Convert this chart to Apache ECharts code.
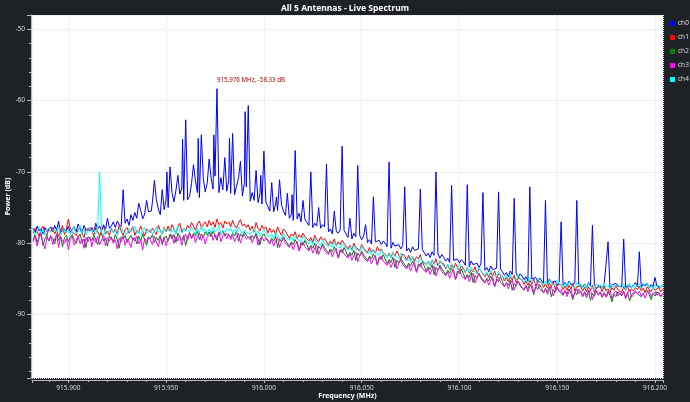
<!DOCTYPE html>
<html><head><meta charset="utf-8">
<script src="https://cdn.jsdelivr.net/npm/echarts@6/dist/echarts.min.js"></script>
<style>html,body{margin:0;padding:0;background:#1e2125;}#c{width:690px;height:402px;}</style>
</head><body><div id="c"></div>
<script>
// Sample grid (FFT bins) of the spectrum, in MHz
const freqStart = 915.882;
const freqStep = 0.001;
const channelNames = ['ch0', 'ch1', 'ch2', 'ch3', 'ch4'];

// ch0 body (noise + hump), dB
const ch0 = [
-77.9,-78.5,-77.6,-78.3,-78.0,-78.7,-77.8,-78.4,-78.1,-77.7,
-78.4,-77.5,-78.2,-76.9,-78.6,-78.0,-77.8,-78.3,-77.6,-78.5,
-78.1,-77.7,-78.4,-77.3,-78.0,-78.6,-77.5,-78.2,-77.9,-78.3,
-77.8,-78.4,-77.2,-78.0,-77.6,-78.3,-77.4,-78.1,-77.7,-77.9,
-77.6,-77.0,-77.8,-76.9,-77.4,-77.7,-76.8,-77.2,-76.6,-77.5,
-76.0,-76.8,-75.7,-76.5,-76.1,-75.4,-76.6,-75.9,-76.3,-75.6,
-75.8,-74.2,-75.5,-73.9,-75.2,-76.0,-74.4,-75.3,-73.8,-75.0,
-74.6,-72.9,-74.2,-72.6,-74.5,-73.1,-72.4,-74.0,-72.8,-73.9,
-73.4,-71.6,-73.2,-71.3,-72.9,-73.6,-71.5,-70.9,-72.8,-71.6,
-72.8,-70.9,-72.4,-70.6,-71.8,-72.9,-70.8,-72.5,-71.2,-72.7,
-71.2,-73.0,-71.5,-73.2,-72.0,-70.9,-72.8,-73.4,-71.6,-72.1,
-72.6,-74.1,-72.9,-74.0,-72.7,-74.3,-73.0,-74.5,-73.4,-74.2,
-74.2,-75.5,-74.0,-75.6,-74.5,-75.4,-76.0,-74.6,-75.5,-76.1,
-75.9,-76.5,-76.0,-76.8,-76.2,-76.6,-75.8,-77.0,-76.4,-76.7,
-76.9,-77.5,-77.0,-77.8,-77.2,-77.6,-76.8,-77.9,-77.4,-77.7,
-77.9,-78.4,-78.0,-78.7,-77.8,-78.3,-78.6,-78.1,-78.5,-78.2,
-78.7,-79.2,-78.8,-79.4,-78.6,-79.1,-79.3,-78.9,-79.5,-79.0,
-79.4,-79.9,-79.5,-80.1,-79.3,-79.8,-80.0,-79.6,-80.2,-79.7,
-80.0,-80.5,-80.1,-80.7,-79.9,-80.4,-80.6,-80.2,-80.8,-80.3,
-80.6,-81.1,-80.7,-81.3,-80.5,-81.0,-81.2,-80.8,-81.4,-80.9,
-81.3,-81.8,-81.4,-82.0,-81.2,-81.7,-81.9,-81.5,-82.1,-81.6,
-82.0,-82.5,-82.1,-82.7,-81.9,-82.4,-82.6,-82.2,-82.8,-82.3,
-82.6,-83.1,-82.7,-83.3,-82.5,-83.0,-83.2,-82.8,-83.4,-82.9,
-83.3,-83.8,-83.4,-84.0,-83.2,-83.7,-83.9,-83.5,-84.1,-83.6,
-84.0,-84.5,-84.1,-84.7,-83.9,-84.4,-84.6,-84.2,-84.8,-84.3,
-84.6,-85.1,-84.7,-85.3,-84.5,-85.0,-85.2,-84.8,-85.4,-84.9,
-85.1,-85.6,-85.2,-85.8,-85.0,-85.5,-85.7,-85.3,-85.9,-85.4,
-85.4,-85.9,-85.5,-86.1,-85.3,-85.8,-86.0,-85.6,-86.2,-85.7,
-85.6,-86.1,-85.7,-86.3,-85.5,-86.0,-86.2,-85.8,-86.4,-85.9,
-85.7,-86.2,-85.8,-86.0,-85.5,-86.3,-85.9,-86.1,-85.6,-86.0,
-85.8,-86.1,-85.6,-86.3,-85.9,-85.7,-86.2,-86.0,-85.5,-86.1,
-85.9,-86.2,-85.7,-86.0,-85.6,-86.3,-85.8,-86.1,-85.5,-86.0,
-85.8,-86.2,-85.9
];
// ch0 narrow tones (main comb, close side tones and mid tones)
const ch0SpikeFreq = [915.920,915.928,915.936,915.940,915.9424,915.944,915.948,915.9504,915.952,915.956,915.9584,915.960,915.964,915.9664,915.968,915.972,915.9744,915.976,915.980,915.9824,915.984,915.988,915.9904,915.992,915.996,915.9984,916.000,916.004,916.0064,916.008,916.012,916.0144,916.016,916.020,916.024,916.028,916.032,916.036,916.040,916.044,916.048,916.052,916.056,916.064,916.072,916.080,916.088,916.096,916.104,916.112,916.120,916.128,916.136,916.144,916.152,916.160,916.168,916.176,916.184,916.192,916.200];
const ch0SpikeDb   = [-76.5,-72.5,-74.4,-74.0,-75.5,-71.2,-72.5,-70.0,-69.3,-70.5,-65.4,-62.7,-69.0,-65.3,-64.8,-68.2,-64.8,-58.33,-68.0,-65.3,-64.6,-68.5,-61.55,-60.7,-69.8,-70.5,-67.1,-71.5,-73.5,-71.1,-73.0,-73.2,-67.0,-74.0,-70.0,-75.0,-68.9,-75.5,-66.4,-76.5,-69.1,-77.4,-73.5,-68.6,-72.1,-72.4,-70.0,-71.9,-71.8,-72.9,-72.8,-73.7,-72.1,-74.0,-77.0,-74.0,-77.5,-79.8,-79.4,-81.2,-84.8];

const ch1 = [
-78.6,-77.9,-78.4,-79.0,-78.1,-77.6,-78.5,-78.9,-78.0,-78.4,
-77.8,-78.7,-78.2,-79.1,-78.3,-77.5,-78.8,-78.0,-76.6,-77.9,
-78.5,-78.4,-78.9,-78.1,-77.7,-78.6,-79.2,-78.0,-78.3,-77.8,
-78.2,-78.9,-77.8,-78.4,-79.0,-78.1,-77.6,-78.7,-78.3,-78.9,
-77.9,-78.5,-78.0,-78.8,-77.4,-78.3,-78.9,-78.1,-77.8,-78.6,
-78.4,-77.7,-78.9,-78.2,-78.5,-77.6,-78.3,-79.0,-78.0,-77.8,
-78.5,-77.9,-78.1,-78.8,-77.5,-78.2,-78.7,-77.8,-78.4,-77.6,
-78.3,-77.4,-78.0,-78.6,-77.7,-77.2,-78.4,-77.9,-78.2,-77.5,
-77.9,-77.1,-77.6,-78.2,-77.3,-76.9,-77.8,-77.4,-77.0,-77.7,
-76.8,-77.5,-77.0,-77.8,-76.6,-77.4,-77.1,-77.9,-76.9,-77.3,
-77.0,-77.7,-76.8,-77.5,-77.9,-77.2,-76.7,-77.6,-77.3,-77.8,
-77.4,-78.2,-77.6,-78.4,-77.1,-77.9,-78.3,-77.5,-78.0,-77.7,
-78.6,-77.9,-78.5,-78.1,-78.8,-77.7,-78.4,-78.9,-78.0,-78.3,
-78.5,-79.3,-78.7,-79.0,-78.4,-79.4,-78.8,-79.2,-78.6,-79.1,
-79.0,-79.7,-79.2,-79.9,-78.9,-79.5,-79.8,-79.1,-79.6,-79.3,
-79.5,-80.3,-79.7,-80.1,-79.4,-80.4,-79.8,-80.2,-79.6,-80.0,
-80.1,-80.8,-80.3,-80.9,-80.0,-80.6,-80.4,-81.0,-80.2,-80.7,
-80.7,-81.3,-80.6,-81.2,-80.9,-81.4,-80.5,-81.1,-80.8,-81.3,
-81.2,-81.9,-81.4,-82.0,-81.3,-81.8,-81.1,-81.7,-82.1,-81.5,
-81.8,-82.4,-81.7,-82.3,-82.0,-82.6,-81.9,-82.2,-81.6,-82.5,
-82.3,-83.0,-82.5,-83.1,-82.4,-82.9,-82.2,-83.2,-82.6,-82.8,
-82.9,-83.6,-83.0,-83.7,-83.1,-83.5,-82.8,-83.4,-83.8,-83.2,
-83.5,-84.1,-83.4,-84.2,-83.7,-84.0,-83.3,-84.3,-83.6,-83.9,
-84.0,-84.7,-84.2,-84.8,-84.1,-84.6,-83.9,-84.9,-84.3,-84.5,
-84.6,-85.3,-84.8,-85.4,-84.7,-85.2,-84.5,-85.5,-84.9,-85.1,
-85.1,-85.8,-85.3,-85.9,-85.2,-85.7,-85.0,-86.0,-85.4,-85.6,
-85.5,-86.2,-85.7,-86.3,-85.6,-86.1,-85.4,-86.4,-85.8,-86.0,
-85.8,-86.5,-86.0,-86.6,-85.9,-86.4,-85.7,-86.7,-86.1,-86.3,
-86.0,-86.7,-86.2,-86.8,-86.1,-86.6,-85.9,-86.9,-86.3,-86.5,
-86.1,-86.8,-86.0,-86.7,-86.4,-86.9,-86.2,-86.6,-85.9,-86.5,
-86.3,-86.9,-86.1,-86.6,-86.0,-86.8,-86.4,-86.7,-86.2,-86.5,
-86.0,-86.7,-86.3,-86.9,-86.1,-86.5,-86.8,-86.2,-86.6,-86.4,
-86.2,-86.8,-86.4
];

const ch2 = [
-79.5,-78.8,-79.9,-79.1,-78.6,-80.3,-79.4,-78.9,-79.7,-79.0,
-79.3,-80.1,-78.7,-79.6,-79.0,-80.5,-79.2,-78.9,-79.8,-79.1,
-78.8,-79.5,-80.0,-79.2,-78.7,-79.9,-79.4,-80.6,-79.1,-79.3,
-79.6,-78.9,-79.4,-80.2,-79.0,-78.6,-79.7,-79.3,-80.4,-79.0,
-79.2,-79.8,-78.8,-79.5,-80.7,-79.1,-79.4,-78.9,-79.9,-79.3,
-78.9,-79.6,-79.2,-80.1,-79.0,-79.7,-78.7,-79.5,-80.3,-79.1,
-79.4,-78.8,-79.9,-79.2,-79.6,-78.9,-80.2,-79.3,-79.0,-79.7,
-78.7,-79.4,-78.8,-79.9,-78.6,-79.2,-79.6,-78.9,-80.3,-79.1,
-78.5,-79.2,-78.6,-79.0,-78.3,-79.5,-78.7,-79.1,-78.4,-78.9,
-78.4,-79.1,-78.3,-78.9,-79.6,-78.5,-78.8,-78.2,-79.0,-78.6,
-78.5,-79.2,-78.6,-79.0,-78.3,-79.7,-78.7,-79.1,-78.4,-78.9,
-78.8,-79.5,-78.9,-79.3,-78.6,-79.4,-80.2,-79.0,-78.7,-79.2,
-79.2,-79.9,-79.3,-79.7,-79.0,-80.6,-79.4,-79.8,-79.1,-79.6,
-79.7,-80.4,-79.8,-80.2,-79.5,-80.1,-81.0,-79.9,-80.3,-79.6,
-80.2,-80.9,-80.3,-80.7,-80.0,-81.5,-80.4,-80.8,-80.1,-80.6,
-80.7,-81.4,-80.8,-81.2,-80.5,-81.1,-82.0,-80.9,-81.3,-80.6,
-81.2,-81.9,-81.3,-81.7,-81.0,-82.4,-81.4,-81.8,-81.1,-81.6,
-81.7,-82.4,-81.8,-82.2,-81.5,-82.1,-83.0,-81.9,-82.3,-81.6,
-82.2,-82.9,-82.3,-82.7,-82.0,-83.4,-82.4,-82.8,-82.1,-82.6,
-82.7,-83.4,-82.8,-83.2,-82.5,-83.1,-84.0,-82.9,-83.3,-82.6,
-83.2,-83.9,-83.3,-83.7,-83.0,-84.4,-83.4,-83.8,-83.1,-83.6,
-83.7,-84.4,-83.8,-84.2,-83.5,-84.1,-85.0,-83.9,-84.3,-83.6,
-84.3,-85.0,-84.4,-84.8,-84.1,-85.5,-84.5,-84.9,-84.2,-84.7,
-84.8,-85.5,-84.9,-85.3,-84.6,-85.2,-86.1,-85.0,-85.4,-84.7,
-85.4,-86.1,-85.5,-85.9,-85.2,-86.6,-85.6,-86.0,-85.3,-85.8,
-85.9,-86.6,-86.0,-86.4,-85.7,-86.3,-87.2,-86.1,-86.5,-85.8,
-86.3,-87.0,-86.4,-86.8,-86.1,-87.5,-86.5,-86.9,-86.2,-86.7,
-86.6,-87.3,-86.7,-87.1,-86.4,-87.0,-87.9,-86.8,-87.2,-86.5,
-86.8,-87.5,-86.9,-87.3,-86.6,-88.0,-87.0,-87.4,-86.7,-87.2,
-86.9,-87.6,-87.0,-87.4,-86.7,-87.3,-88.2,-87.1,-87.5,-86.8,
-87.0,-87.4,-86.8,-87.6,-86.9,-88.1,-87.2,-87.3,-86.7,-87.1,
-86.9,-87.5,-87.1,-87.3,-86.6,-87.2,-87.9,-87.0,-87.4,-86.8,
-87.0,-87.5,-87.2
];

const ch3 = [
-79.8,-79.0,-80.4,-79.3,-78.7,-79.9,-80.8,-79.2,-79.6,-78.9,
-80.2,-79.4,-78.8,-80.6,-79.1,-79.7,-80.0,-79.3,-80.9,-79.5,
-79.0,-80.3,-79.6,-78.9,-80.1,-79.4,-80.7,-79.2,-79.8,-79.1,
-80.5,-79.3,-79.9,-79.0,-80.2,-79.6,-78.8,-80.4,-79.2,-79.7,
-79.1,-80.0,-79.5,-80.8,-79.3,-79.8,-79.0,-80.3,-79.4,-79.9,
-80.6,-79.2,-79.7,-79.0,-80.1,-79.5,-80.9,-79.3,-79.8,-79.1,
-79.6,-80.2,-79.0,-79.8,-80.5,-79.3,-79.9,-79.1,-80.4,-79.5,
-79.5,-78.8,-80.0,-79.1,-79.7,-78.9,-80.3,-79.2,-78.7,-79.6,
-78.6,-79.4,-78.8,-79.9,-79.1,-78.5,-79.6,-78.9,-80.1,-79.2,
-79.2,-78.5,-79.6,-78.8,-79.3,-78.4,-79.8,-79.0,-78.6,-79.4,
-78.7,-79.5,-78.9,-79.8,-79.1,-78.6,-80.0,-79.2,-78.8,-79.4,
-79.6,-79.0,-79.9,-79.2,-78.9,-80.3,-79.4,-79.1,-79.7,-79.3,
-79.4,-80.1,-79.5,-80.4,-79.7,-79.2,-80.6,-79.8,-79.3,-80.0,
-79.9,-80.6,-80.0,-80.9,-80.2,-79.7,-81.1,-80.3,-79.8,-80.5,
-80.4,-81.1,-80.5,-81.4,-80.7,-80.2,-81.6,-80.8,-80.3,-81.0,
-80.9,-81.6,-81.0,-81.9,-81.2,-80.7,-82.1,-81.3,-80.8,-81.5,
-81.4,-82.1,-81.5,-82.4,-81.7,-81.2,-82.6,-81.8,-81.3,-82.0,
-81.9,-82.6,-82.0,-82.9,-82.2,-81.7,-83.1,-82.3,-81.8,-82.5,
-82.4,-83.1,-82.5,-83.4,-82.7,-82.2,-83.6,-82.8,-82.3,-83.0,
-82.9,-83.6,-83.0,-83.9,-83.2,-82.7,-84.1,-83.3,-82.8,-83.5,
-83.4,-84.1,-83.5,-84.4,-83.7,-83.2,-84.6,-83.8,-83.3,-84.0,
-83.9,-84.6,-84.0,-84.9,-84.2,-83.7,-85.1,-84.3,-83.8,-84.5,
-84.4,-85.1,-84.5,-85.4,-84.7,-84.2,-85.6,-84.8,-84.3,-85.0,
-84.9,-85.6,-85.0,-85.9,-85.2,-84.7,-86.1,-85.3,-84.8,-85.5,
-85.4,-86.1,-85.5,-86.4,-85.7,-85.2,-86.6,-85.8,-85.3,-86.0,
-85.8,-86.5,-85.9,-86.8,-86.1,-85.6,-87.0,-86.2,-85.7,-86.4,
-86.2,-86.9,-86.3,-87.2,-86.5,-86.0,-87.4,-86.6,-86.1,-86.8,
-86.5,-87.2,-86.6,-87.5,-86.8,-86.3,-87.7,-86.9,-86.4,-87.1,
-86.7,-87.4,-86.8,-87.7,-87.0,-86.5,-87.9,-87.1,-86.6,-87.3,
-86.8,-87.5,-86.9,-87.6,-87.1,-86.6,-87.8,-87.0,-86.7,-87.4,
-86.9,-87.3,-86.7,-87.8,-87.0,-86.5,-87.6,-87.2,-86.8,-87.1,
-86.7,-87.4,-87.0,-87.7,-86.9,-86.6,-87.5,-87.1,-86.8,-87.3,
-86.9,-87.4,-87.0
];

const ch4 = [
-78.1,-78.8,-78.3,-77.7,-78.6,-78.0,-78.9,-78.2,-77.8,-78.5,
-78.7,-78.0,-78.4,-77.6,-78.9,-78.3,-77.9,-78.6,-78.1,-78.8,
-78.2,-77.8,-78.7,-78.4,-77.5,-78.6,-78.0,-78.9,-78.3,-77.9,
-78.5,-78.1,-78.8,-77.7,-70.0,-78.4,-78.9,-78.0,-78.6,-78.2,
-77.8,-78.6,-78.2,-78.9,-78.0,-77.6,-78.5,-78.3,-78.8,-77.9,
-78.4,-78.0,-77.6,-78.7,-78.2,-78.9,-78.1,-77.8,-78.6,-78.3,
-78.0,-78.7,-78.3,-77.7,-78.5,-78.1,-78.8,-77.9,-78.4,-78.2,
-77.8,-78.5,-78.0,-78.7,-77.6,-78.3,-78.6,-77.9,-78.4,-78.1,
-78.4,-77.7,-78.2,-78.8,-77.9,-78.5,-77.6,-78.3,-78.0,-78.6,
-78.0,-78.6,-77.8,-78.4,-78.1,-77.5,-78.7,-78.2,-78.5,-77.9,
-78.3,-77.9,-78.6,-78.0,-78.5,-77.7,-78.2,-78.8,-78.1,-78.4,
-78.2,-78.8,-78.4,-77.9,-78.7,-78.3,-79.0,-78.5,-78.1,-78.6,
-78.6,-79.2,-78.7,-79.3,-78.5,-79.0,-78.8,-79.4,-78.6,-79.1,
-79.0,-79.6,-79.1,-79.7,-78.9,-79.4,-79.2,-79.8,-79.0,-79.5,
-79.5,-80.1,-79.6,-80.2,-79.4,-79.9,-79.7,-80.3,-79.5,-80.0,
-79.9,-80.5,-80.0,-80.6,-79.8,-80.3,-80.1,-80.7,-79.9,-80.4,
-80.4,-81.0,-80.5,-81.1,-80.3,-80.8,-80.6,-81.2,-80.4,-80.9,
-80.9,-81.5,-81.0,-81.6,-80.8,-81.3,-81.1,-81.7,-80.9,-81.4,
-81.4,-82.0,-81.5,-82.1,-81.3,-81.8,-81.6,-82.2,-81.4,-81.9,
-81.9,-82.5,-82.0,-82.6,-81.8,-82.3,-82.1,-82.7,-81.9,-82.4,
-82.4,-83.0,-82.5,-83.1,-82.3,-82.8,-82.6,-83.2,-82.4,-82.9,
-82.9,-83.5,-83.0,-83.6,-82.8,-83.3,-83.1,-83.7,-82.9,-83.4,
-83.4,-84.0,-83.5,-84.1,-83.3,-83.8,-83.6,-84.2,-83.4,-83.9,
-83.9,-84.5,-84.0,-84.6,-83.8,-84.3,-84.1,-84.7,-83.9,-84.4,
-84.4,-85.0,-84.5,-85.1,-84.3,-84.8,-84.6,-85.2,-84.4,-84.9,
-84.9,-85.5,-85.0,-85.6,-84.8,-85.3,-85.1,-85.7,-84.9,-85.4,
-85.2,-85.8,-85.3,-85.9,-85.1,-85.6,-85.4,-86.0,-85.2,-85.7,
-85.5,-86.1,-85.6,-86.2,-85.4,-85.9,-85.7,-86.3,-85.5,-86.0,
-85.7,-86.3,-85.8,-86.4,-85.6,-86.1,-85.9,-86.5,-85.7,-86.2,
-85.8,-86.4,-85.6,-86.2,-85.9,-86.5,-85.7,-86.1,-86.3,-85.8,
-85.9,-86.3,-85.7,-86.5,-86.0,-85.6,-86.4,-85.8,-86.2,-86.0,
-85.7,-86.4,-85.9,-86.1,-85.6,-86.3,-86.0,-86.5,-85.8,-86.2,
-85.9,-86.3,-85.7
];

const colors = ['#0000ff', '#ff0000', '#008000', '#ff00ff', '#00ffff'];
const peakFreq = 915.976, peakDb = -58.33;

function toPairs(arr) {
  return arr.map((v, i) => [+(freqStart + i * freqStep).toFixed(4), v]);
}
function withSpikes(pairs, fs, ds) {
  const out = pairs.slice();
  fs.forEach((f, k) => {
    const j = out.findIndex(p => Math.abs(p[0] - f) < 1e-7);
    if (j >= 0) out[j] = [f, ds[k]]; else out.push([f, ds[k]]);
  });
  out.sort((a, b) => a[0] - b[0]);
  return out;
}

const seriesData = [
  withSpikes(toPairs(ch0), ch0SpikeFreq, ch0SpikeDb),
  toPairs(ch1), toPairs(ch2), toPairs(ch3), toPairs(ch4)
];

const font = 'Noto Sans';
const chart = echarts.init(document.getElementById('c'), null, {renderer: 'canvas'});
chart.setOption({
  backgroundColor: '#1e2125',
  animation: false,
  color: colors,
  title: {
    text: 'All 5 Antennas - Live Spectrum', left: 'center', top: -1,
    textStyle: {color: '#ffffff', fontSize: 8.5, fontWeight: 'bold', fontFamily: font}
  },
  legend: {
    orient: 'vertical', left: 665, top: 14, itemWidth: 5, itemHeight: 5, itemGap: 5,
    icon: 'rect', data: channelNames,
    textStyle: {color: '#dddddd', fontSize: 6.5, fontFamily: font, lineHeight: 9, padding: [0, 0, 0, -2]}
  },
  grid: {left: 32, right: 27, top: 15, bottom: 24, show: true, backgroundColor: '#ffffff', borderWidth: 0,
    outerBoundsMode: 'none', containLabel: false},
  xAxis: {
    type: 'value', min: 915.8814, max: 916.2041, offset: 2,
    name: 'Frequency (MHz)', nameLocation: 'middle', nameGap: 12, nameMoveOverlap: false,
    nameTextStyle: {color: '#ffffff', fontSize: 7, fontWeight: 'bold', fontFamily: font},
    axisLine: {show: true, lineStyle: {color: '#bbbbbb', width: 1}},
    axisTick: {show: true, length: 3, lineStyle: {color: '#bbbbbb'}},
    minorTick: {show: true, splitNumber: 5, length: 2, lineStyle: {color: '#bbbbbb'}},
    axisLabel: {color: '#dddddd', fontSize: 6.5, fontFamily: font, margin: 5,
      showMinLabel: false, showMaxLabel: false, formatter: v => v.toFixed(3)},
    splitLine: {show: true, lineStyle: {color: '#e2e2e2', type: 'dotted', width: 1}}
  },
  yAxis: {
    type: 'value', min: -98.9, max: -48, offset: 1,
    name: 'Power (dB)', nameLocation: 'middle', nameGap: 20, nameRotate: 90, nameMoveOverlap: false,
    nameTextStyle: {color: '#ffffff', fontSize: 7, fontWeight: 'bold', fontFamily: font},
    axisLine: {show: true, lineStyle: {color: '#bbbbbb', width: 1}},
    axisTick: {show: true, length: 4, lineStyle: {color: '#bbbbbb'}},
    minorTick: {show: true, splitNumber: 5, length: 2, lineStyle: {color: '#bbbbbb'}},
    axisLabel: {color: '#dddddd', fontSize: 6.5, fontFamily: font, margin: 6,
      showMinLabel: false, showMaxLabel: false},
    splitLine: {show: true, lineStyle: {color: '#e2e2e2', type: 'dotted', width: 1}}
  },
  series: channelNames.map((n, k) => ({
    name: n, type: 'line', data: seriesData[k], showSymbol: false, symbol: 'none',
    sampling: null, lineStyle: {width: 1, color: colors[k]}, itemStyle: {color: colors[k]},
    z: 2 + k,
    markPoint: k === 0 ? {
      symbol: 'circle', symbolSize: 0, silent: true,
      data: [{coord: [peakFreq, peakDb], value: peakDb}],
      label: {show: true, position: [0, -11], color: '#b00000', fontSize: 6.2, fontFamily: font,
        formatter: () => peakFreq.toFixed(3) + ' MHz, ' + peakDb.toFixed(2) + ' dB'}
    } : undefined
  }))
});
</script>
</body></html>
